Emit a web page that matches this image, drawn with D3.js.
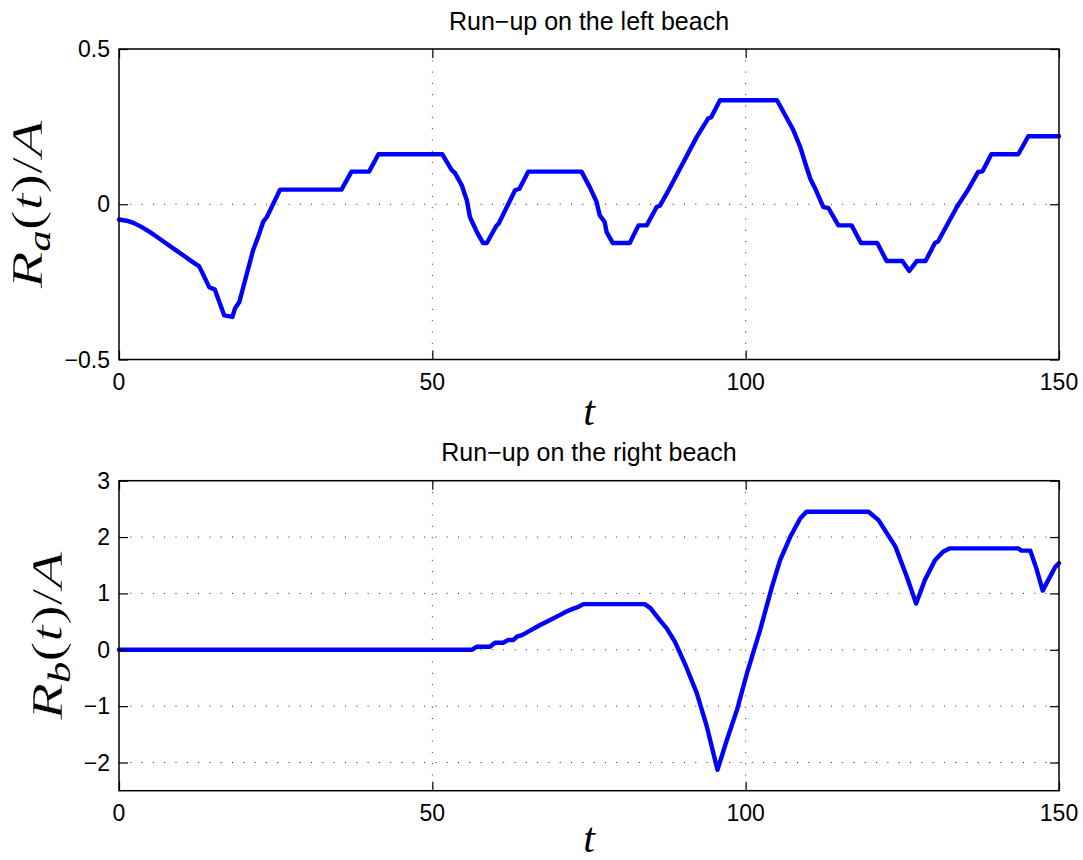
<!DOCTYPE html>
<html>
<head>
<meta charset="utf-8">
<script src="https://cdn.jsdelivr.net/npm/d3@7"></script>
<style>
  html, body { margin: 0; padding: 0; background: #fff; }
  svg { display: block; }
</style>
</head>
<body>
<script>
// ---------- DATA ----------
const xTicks = [0, 50, 100, 150];
const topYTicks = [-0.5, 0, 0.5];
const topYTickLabels = ["\u22120.5", "0", "0.5"];
const botYTicks = [-2, -1, 0, 1, 2, 3];
const botYTickLabels = ["\u22122", "\u22121", "0", "1", "2", "3"];

const topTitle = "Run\u2212up on the left beach";
const botTitle = "Run\u2212up on the right beach";

// Run-up on the left beach, R_a(t)/A
const topT = [0, 1.2, 2.3, 3.5, 4.9, 6.2, 7.6, 9.0, 10.3, 11.6, 12.8, 14.4, 15.3, 16.8, 18.1, 18.5, 19.2, 20.4, 21.4, 22.2, 23.0, 23.6, 25.7,
  35.5, 37.1, 39.9, 41.4, 51.6, 53.1, 53.6, 54.7, 55.5, 56.0, 57.1, 58.1, 58.7, 60.2, 60.6, 63.2, 63.9, 65.3,
  73.8, 75.1, 76.2, 76.7, 77.5, 77.8, 78.8, 81.5, 82.9, 84.2, 85.8, 86.3, 87.7, 92.2, 94.0, 94.5, 95.9,
  105.0, 107.6, 108.7, 109.7, 110.3, 111.1, 112.4, 113.2, 114.8, 116.9, 118.4, 121.0, 122.5, 125.0, 126.1, 127.3, 128.7,
  130.2, 130.7, 133.7, 135.5, 137.1, 137.8, 139.2, 143.5, 145.1, 150];
const topR = [-0.049, -0.053, -0.060, -0.072, -0.089, -0.107, -0.127, -0.147, -0.165, -0.184, -0.200, -0.267, -0.275, -0.358, -0.363, -0.336, -0.315, -0.224, -0.148, -0.105, -0.057, -0.041, 0.047,
  0.047, 0.105, 0.105, 0.161, 0.161, 0.110, 0.101, 0.061, 0.013, -0.041, -0.089, -0.125, -0.125, -0.070, -0.062, 0.045, 0.050, 0.105,
  0.105, 0.056, 0.008, -0.035, -0.057, -0.089, -0.125, -0.125, -0.068, -0.068, -0.009, -0.005, 0.045, 0.217, 0.276, 0.280, 0.335,
  0.335, 0.239, 0.185, 0.120, 0.083, 0.050, -0.009, -0.012, -0.068, -0.068, -0.125, -0.125, -0.183, -0.183, -0.215, -0.183, -0.183,
  -0.125, -0.120, -0.009, 0.047, 0.104, 0.106, 0.161, 0.161, 0.219, 0.219];

// Run-up on the right beach, R_b(t)/A
const botT = [0, 56.3, 57.1, 59.2, 60.0, 61.3, 62.1, 62.9, 63.5, 64.3, 65.6, 67.2, 68.8, 70.4, 71.4, 72.5, 73.3, 74.1,
  83.9, 84.8, 86.3, 87.4, 88.7, 90.5, 92.2, 93.8, 95.5, 97.0, 98.6, 100.2, 102.3, 104.2, 105.5, 107.1, 108.7, 109.7,
  119.6, 121.2, 123.9, 125.7, 127.2, 128.6, 130.2, 131.5, 132.6, 143.5, 144.0, 145.4, 146.4, 147.4, 148.3, 149.4, 150];
const botR = [0, 0, 0.055, 0.055, 0.126, 0.126, 0.174, 0.174, 0.232, 0.26, 0.34, 0.44, 0.53, 0.62, 0.68, 0.73, 0.76, 0.81,
  0.81, 0.74, 0.528, 0.38, 0.144, -0.30, -0.77, -1.36, -2.13, -1.60, -1.07, -0.42, 0.35, 1.12, 1.59, 2.00, 2.33, 2.45,
  2.45, 2.30, 1.83, 1.30, 0.82, 1.24, 1.59, 1.74, 1.80, 1.80, 1.76, 1.76, 1.44, 1.05, 1.24, 1.47, 1.54];

// ---------- LAYOUT ----------
const W = 1083, H = 860;
const left = 119, right = 1059;
const panels = [
  { t: topT, r: topR, domain: [-0.5, 0.5], top: 49, bottom: 359.5, yTicks: topYTicks, yLabels: topYTickLabels,
    title: topTitle, sub: "a", ylabX: 42, xlabDy: 65 },
  { t: botT, r: botR, domain: [-2.5, 3], top: 480.7, bottom: 790.7, yTicks: botYTicks, yLabels: botYTickLabels,
    title: botTitle, sub: "b", ylabX: 62, xlabDy: 61 }
];

const svg = d3.select("body").append("svg")
  .attr("width", W).attr("height", H)
  .attr("viewBox", `0 0 ${W} ${H}`);
svg.append("rect").attr("width", W).attr("height", H).attr("fill", "#fff");

const sansFont = "'Liberation Sans', Arial, Helvetica, sans-serif";
const serifFont = "'Liberation Serif', 'Times New Roman', serif";
const tickLen = 9;

panels.forEach(p => {
  const x = d3.scaleLinear().domain([0, 150]).range([left, right]);
  const y = d3.scaleLinear().domain(p.domain).range([p.bottom, p.top]);
  const g = svg.append("g");

  // grid (dotted)
  const gridStyle = sel => sel.attr("stroke", "#222").attr("stroke-width", 1)
    .attr("stroke-dasharray", "1,10.3").attr("fill", "none");
  g.selectAll(".vgrid").data(xTicks.filter(v => v > 0 && v < 150)).enter().append("line")
    .attr("x1", d => x(d)).attr("x2", d => x(d))
    .attr("y1", p.top).attr("y2", p.bottom).call(gridStyle);
  g.selectAll(".hgrid").data(p.yTicks.filter(v => v > p.domain[0] && v < p.domain[1])).enter().append("line")
    .attr("x1", left).attr("x2", right)
    .attr("y1", d => y(d)).attr("y2", d => y(d)).call(gridStyle);

  // data line
  const pts = p.t.map((tv, i) => [tv, p.r[i]]);
  g.append("path").datum(pts)
    .attr("d", d3.line().x(d => x(d[0])).y(d => y(d[1])))
    .attr("fill", "none").attr("stroke", "#0000ff").attr("stroke-width", 4.4)
    .attr("stroke-linejoin", "round").attr("stroke-linecap", "round");

  // axes via d3 axis generators (ticks inward)
  const axB = d3.axisBottom(x).tickValues(xTicks).tickSize(-tickLen).tickFormat("");
  const axT = d3.axisTop(x).tickValues(xTicks).tickSize(-tickLen).tickFormat("");
  const axL = d3.axisLeft(y).tickValues(p.yTicks).tickSize(-tickLen).tickFormat("");
  const axR = d3.axisRight(y).tickValues(p.yTicks).tickSize(-tickLen).tickFormat("");
  [[axB, `translate(0,${p.bottom})`], [axT, `translate(0,${p.top})`],
   [axL, `translate(${left},0)`], [axR, `translate(${right},0)`]].forEach(([ax, tr]) => {
    const a = g.append("g").attr("transform", tr).call(ax);
    a.select(".domain").remove();
    a.selectAll("line").attr("stroke", "#000").attr("stroke-width", 1.2);
  });
  // box
  g.append("rect").attr("x", left).attr("y", p.top)
    .attr("width", right - left).attr("height", p.bottom - p.top)
    .attr("fill", "none").attr("stroke", "#000").attr("stroke-width", 1.5);

  // tick labels
  g.selectAll(".xl").data(xTicks).enter().append("text")
    .attr("x", d => x(d)).attr("y", p.bottom + 30)
    .attr("text-anchor", "middle").attr("font-family", sansFont).attr("font-size", 23)
    .attr("fill", "#000").text(d => d);
  g.selectAll(".yl").data(p.yTicks).enter().append("text")
    .attr("x", left - 9).attr("y", d => y(d) + 8)
    .attr("text-anchor", "end").attr("font-family", sansFont).attr("font-size", 23)
    .attr("fill", "#000").text((d, i) => p.yLabels[i]);

  // title
  g.append("text").attr("x", (left + right) / 2).attr("y", p.top - 19.5)
    .attr("text-anchor", "middle").attr("font-family", sansFont).attr("font-size", 25)
    .attr("fill", "#000").text(p.title);

  // x label
  g.append("text").attr("x", (left + right) / 2).attr("y", p.bottom + p.xlabDy)
    .attr("text-anchor", "middle").attr("font-family", serifFont).attr("font-style", "italic")
    .attr("font-size", 42).attr("fill", "#000").text("t");

  // y label
  const yl = g.append("text")
    .attr("transform", `translate(${p.ylabX},${(p.top + p.bottom) / 2}) rotate(-90)`)
    .attr("text-anchor", "middle").attr("font-family", serifFont).attr("font-style", "italic")
    .attr("font-size", 44).attr("fill", "#000")
    .attr("stroke", "#fff").attr("stroke-width", 0.5)
    .attr("textLength", 168).attr("lengthAdjust", "spacingAndGlyphs");
  yl.append("tspan").text("R");
  yl.append("tspan").attr("font-size", 31).attr("stroke-width", 0).attr("dy", 8).text(p.sub);
  yl.append("tspan").attr("font-style", "normal").attr("dy", -8).text("(");
  yl.append("tspan").text("t");
  yl.append("tspan").attr("font-style", "normal").text(")");
  yl.append("tspan").attr("font-style", "normal").text("/");
  yl.append("tspan").text("A");
});
</script>
</body>
</html>
